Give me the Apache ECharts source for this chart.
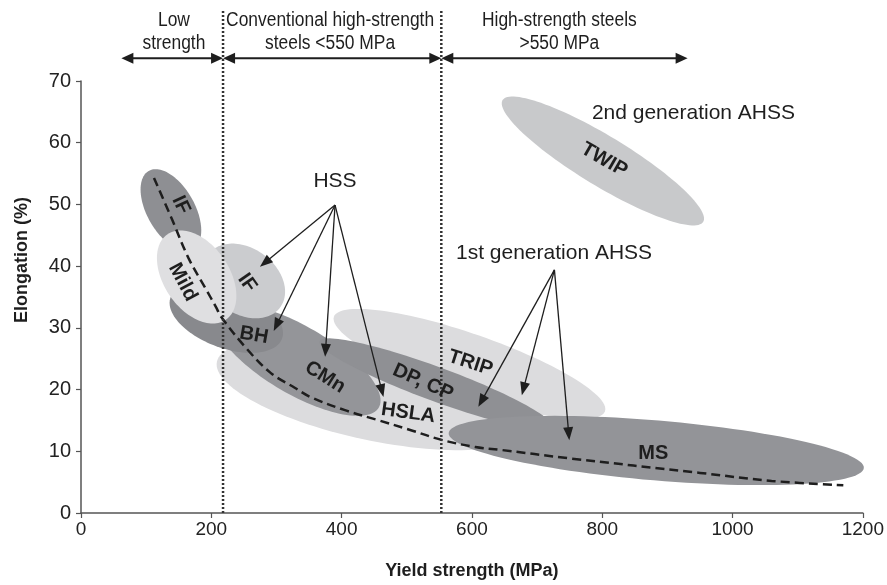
<!DOCTYPE html>
<html><head><meta charset="utf-8">
<script src="https://cdn.jsdelivr.net/npm/echarts@6/dist/echarts.min.js"></script>
<style>html,body{margin:0;padding:0;background:#fff}#chart{width:887px;height:585px}</style>
</head><body><div id="chart"></div>
<script>
// ---- data (MPa, %) ----
const xTicks = [0, 200, 400, 600, 800, 1000, 1200];
const yTicks = [0, 10, 20, 30, 40, 50, 60, 70];

// steel families as ellipses: centre, end of first semi-axis, end of second semi-axis
const steelNames = ['HSLA', 'TRIP', 'CMn', 'DP, CP', 'MS', 'BH', 'IF (HSS)', 'IF', 'Mild', 'TWIP'];
const centreX = [446.0, 596.2, 332.2, 544.6, 882.9, 223.0, 250.3, 138.0, 177.5, 801.0];
const centreY = [19.12, 24.15, 24.79, 20.90, 10.13, 31.60, 37.60, 49.10, 38.24, 57.04];
const axisAX  = [683.4, 804.2, 457.1, 722.9, 1201.5, 308.6, 306.3, 172.2, 222.7, 955.0];
const axisAY  = [13.73, 16.50, 17.10, 13.97, 7.29, 28.28, 33.41, 42.78, 31.34, 47.19];
const axisBX  = [460.3, 611.0, 358.0, 553.4, 886.7, 238.6, 279.0, 169.6, 218.4, 820.6];
const axisBY  = [26.25, 28.75, 29.56, 23.50, 14.97, 36.17, 41.97, 51.05, 41.31, 60.51];

// label text and anchor for each steel family
const steelLabels = ['HSLA', 'TRIP', 'CMn', 'DP, CP', 'MS', 'BH', 'IF', 'IF', 'Mild', 'TWIP'];
const labelX = [502.1, 597.7, 374.7, 524.9, 878.3, 265.5, 254.9, 153.2, 156.3, 803.0];
const labelY = [16.2, 24.3, 22.0, 21.2, 9.7, 28.8, 37.3, 49.9, 37.4, 57.2];

// banana trend curve
const trendX = [112, 140, 165, 190, 207, 215, 252, 291, 328, 352, 404, 454, 504, 555, 605, 646, 746, 950, 1060, 1170];
const trendY = [54.3, 47.5, 41.3, 36.6, 33.4, 31.8, 26.9, 22.7, 20.3, 18.8, 16.7, 15.1, 13.5, 11.8, 10.7, 10.2, 8.9, 6.5, 5.2, 4.5];

// annotation texts
const noteTexts = ['HSS', '1st generation AHSS', '2nd generation AHSS'];
const noteX = [389.9, 726.0, 940.0];
const noteY = [53.8, 42.1, 64.8];

// pointer arrows: from -> to
const hssFrom = [389.9, 49.9];
const hssTo = [[274.6, 39.9], [295.8, 29.5], [374.7, 25.3], [464.2, 18.8]];
const ahssFrom = [726.6, 39.4];
const ahssTo = [[609.8, 17.2], [676.6, 19.1], [749.4, 11.8]];

// strength ranges above the plot
const rangeBounds = [62, 218, 553, 931];
const rangeArrowY = 73.7;
const rangeNames = ['Low\nstrength', 'Conventional high-strength\nsteels <550 MPa', 'High-strength steels\n>550 MPa'];
const rangeLabelX = [142.6, 382.3, 734.2];
const rangeLabelY = 77.9;
const dividerX = [218, 553];
const dividerTop = 81.5;

// ---- styles ----
const FONT = "'Liberation Sans', Arial, sans-serif";
const steelFill = ['#dcdcde', '#dcdcde', '#949599', '#8f9094', '#939498', '#88898d', '#cbcccf', '#8e8f93', '#dfdfe1', '#c8c9cb'];
const steelRot = [8, 18, 32, 24, 0, 10, 55, 65, 62, 30];
const INK = '#1e1e1e';

function ellipseItem(params, api) {
  const c = api.coord([api.value(0), api.value(1)]);
  const a = api.coord([api.value(2), api.value(3)]);
  const b = api.coord([api.value(4), api.value(5)]);
  const ux = a[0] - c[0], uy = a[1] - c[1], vx = b[0] - c[0], vy = b[1] - c[1];
  const pts = [];
  const N = 120;
  for (let i = 0; i < N; i++) {
    const t = i / N * 2 * Math.PI;
    pts.push([c[0] + ux * Math.cos(t) + vx * Math.sin(t), c[1] + uy * Math.cos(t) + vy * Math.sin(t)]);
  }
  return { type: 'polygon', z2: params.dataIndex, shape: { points: pts }, style: { fill: steelFill[params.dataIndex] } };
}

function arrowShapes(p1, p2, headL, headW, both, lw) {
  const dx = p2[0] - p1[0], dy = p2[1] - p1[1];
  const L = Math.hypot(dx, dy), ux = dx / L, uy = dy / L, nx = -uy, ny = ux;
  const head = (tip, sx, sy) => {
    const bx = tip[0] - sx * headL, by = tip[1] - sy * headL;
    return { type: 'polygon', shape: { points: [tip, [bx + nx * headW / 2, by + ny * headW / 2], [bx - nx * headW / 2, by - ny * headW / 2]] }, style: { fill: INK } };
  };
  const s = both ? [p1[0] + ux * headL * 0.7, p1[1] + uy * headL * 0.7] : p1;
  const e = [p2[0] - ux * headL * 0.7, p2[1] - uy * headL * 0.7];
  const kids = [{ type: 'line', shape: { x1: s[0], y1: s[1], x2: e[0], y2: e[1] }, style: { stroke: INK, lineWidth: lw } }, head(p2, ux, uy)];
  if (both) kids.push(head(p1, -ux, -uy));
  return { type: 'group', children: kids };
}

const steelData = steelNames.map((n, i) => [centreX[i], centreY[i], axisAX[i], axisAY[i], axisBX[i], axisBY[i]]);
const labelData = steelLabels.map((n, i) => [labelX[i], labelY[i]]);
const pointerData = hssTo.map(t => [hssFrom[0], hssFrom[1], t[0], t[1]]).concat(ahssTo.map(t => [ahssFrom[0], ahssFrom[1], t[0], t[1]]));
const rangeData = rangeNames.map((n, i) => [rangeBounds[i], rangeArrowY, rangeBounds[i + 1], rangeArrowY]);
const dividerData = dividerX.map(x => [x, 0, x, dividerTop]);
const noteData = noteTexts.map((n, i) => [noteX[i], noteY[i]]);
const rangeLabelData = rangeNames.map((n, i) => [rangeLabelX[i], rangeLabelY]);

const chart = echarts.init(document.getElementById('chart'), null, { renderer: 'canvas' });
chart.setOption({
  animation: false,
  backgroundColor: '#fff',
  grid: { left: 81, right: 15, top: 81, bottom: 72, containLabel: false },
  xAxis: {
    type: 'value', min: xTicks[0], max: xTicks[xTicks.length - 1], interval: xTicks[1] - xTicks[0],
    name: 'Yield strength (MPa)', nameLocation: 'middle', nameGap: 49,
    nameTextStyle: { fontFamily: FONT, fontWeight: 'bold', fontSize: 18, color: INK },
    axisLine: { lineStyle: { color: '#555', width: 1.5 } },
    axisTick: { length: 5, lineStyle: { color: '#555', width: 1.2 } },
    axisLabel: { fontFamily: FONT, fontSize: 19, color: '#222', margin: 7, formatter: v => String(v) },
    splitLine: { show: false }
  },
  yAxis: {
    type: 'value', min: yTicks[0], max: yTicks[yTicks.length - 1], interval: yTicks[1] - yTicks[0],
    axisLine: { show: true, lineStyle: { color: '#555', width: 1.5 } },
    axisTick: { show: true, length: 5, lineStyle: { color: '#555', width: 1.2 } },
    axisLabel: { fontFamily: FONT, fontSize: 20, color: '#222', margin: 10 },
    splitLine: { show: false }
  },
  graphic: [{
    type: 'text', x: 22, y: 260, rotation: Math.PI / 2,
    style: { text: 'Elongation (%)', font: "bold 18px " + FONT, fill: INK, align: 'center', verticalAlign: 'middle' }
  }],
  series: [
    { type: 'custom', name: 'steels', renderItem: ellipseItem, data: steelData, clip: false, z: 2,
      encode: { x: [0, 2, 4], y: [1, 3, 5] } },
    { type: 'line', name: 'trend', data: trendX.map((x, i) => [x, trendY[i]]), smooth: 0.35, symbol: 'none', z: 3,
      lineStyle: { color: INK, width: 2.5, type: [9, 5] } },
    { type: 'custom', name: 'dividers', data: dividerData, clip: false, z: 4, encode: { x: [0, 2], y: [1, 3] },
      renderItem: (p, api) => {
        const a = api.coord([api.value(0), api.value(1)]), b = api.coord([api.value(2), api.value(3)]);
        return { type: 'line', shape: { x1: a[0], y1: a[1], x2: b[0], y2: b[1] }, style: { stroke: '#333', lineWidth: 2.5, lineDash: [2, 2] } };
      } },
    { type: 'custom', name: 'ranges', data: rangeData, clip: false, z: 5, encode: { x: [0, 2], y: [1, 3] },
      renderItem: (p, api) => arrowShapes(api.coord([api.value(0), api.value(1)]), api.coord([api.value(2), api.value(3)]), 12, 11, true, 2) },
    { type: 'custom', name: 'pointers', data: pointerData, clip: false, z: 5, encode: { x: [0, 2], y: [1, 3] },
      renderItem: (p, api) => arrowShapes(api.coord([api.value(0), api.value(1)]), api.coord([api.value(2), api.value(3)]), 13, 10, false, 1.3) },
    { type: 'custom', name: 'steelLabels', data: labelData, clip: false, z: 6, encode: { x: 0, y: 1 },
      renderItem: (p, api) => {
        const c = api.coord([api.value(0), api.value(1)]);
        const i = p.dataIndex;
        return { type: 'text', x: c[0], y: c[1], rotation: -steelRot[i] * Math.PI / 180,
          style: { text: steelLabels[i], font: "bold 20px " + FONT, fill: INK, align: 'center', verticalAlign: 'middle' } };
      } },
    { type: 'custom', name: 'notes', data: noteData, clip: false, z: 6, encode: { x: 0, y: 1 },
      renderItem: (p, api) => {
        const c = api.coord([api.value(0), api.value(1)]);
        return { type: 'text', x: c[0], y: c[1],
          style: { text: noteTexts[p.dataIndex], font: "21px " + FONT, fill: INK, align: 'center', verticalAlign: 'middle' } };
      } },
    { type: 'custom', name: 'rangeLabels', data: rangeLabelData, clip: false, z: 6, encode: { x: 0, y: 1 },
      renderItem: (p, api) => {
        const c = api.coord([api.value(0), api.value(1)]);
        return { type: 'text', x: c[0], y: c[1], scaleX: 0.87,
          style: { text: rangeNames[p.dataIndex], font: "20px " + FONT, lineHeight: 23, fill: INK, align: 'center', verticalAlign: 'middle' } };
      } }
  ]
});
</script></body></html>
